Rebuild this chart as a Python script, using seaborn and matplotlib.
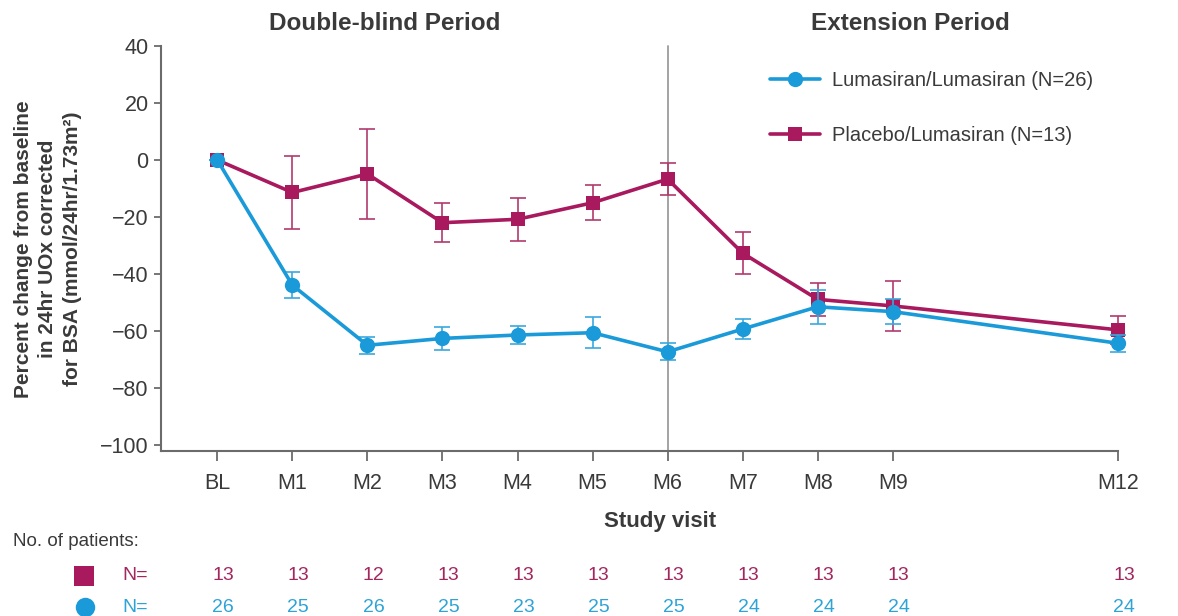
import numpy as np
import pandas as pd
import matplotlib
matplotlib.use("Agg")
import matplotlib.pyplot as plt
import matplotlib.transforms as mtransforms
from matplotlib.lines import Line2D
import seaborn as sns

# ---------------- data ----------------
visits = ["BL", "M1", "M2", "M3", "M4", "M5", "M6", "M7", "M8", "M9", "M12"]
visit_month = [0, 1, 2, 3, 4, 5, 6, 7, 8, 9, 12]

luma_label = "Lumasiran/Lumasiran (N=26)"
luma_mean = [0, -43.9, -65.0, -62.6, -61.4, -60.6, -67.3, -59.3, -51.5, -53.2, -64.3]
luma_se = [0, 4.6, 3.0, 4.0, 3.0, 5.4, 3.0, 3.5, 5.9, 4.5, 3.0]
luma_n = [26, 25, 26, 25, 23, 25, 25, 24, 24, 24, 24]

plac_label = "Placebo/Lumasiran (N=13)"
plac_mean = [0, -11.4, -4.9, -22.0, -20.8, -15.0, -6.7, -32.7, -48.9, -51.2, -59.6]
plac_se = [0, 12.8, 15.8, 6.8, 7.6, 6.1, 5.6, 7.3, 5.9, 8.8, 5.0]
plac_n = [13, 13, 12, 13, 13, 13, 13, 13, 13, 13, 13]

yticks = [-100, -80, -60, -40, -20, 0, 20, 40]

# ---------------- style ----------------
sns.set_theme(style="ticks")
plt.rcParams["font.family"] = ["Liberation Sans", "DejaVu Sans"]

BLUE = "#1A9AD8"
RED = "#A8195E"
BLUE_ERR = "#3AA8DD"
RED_ERR = "#B03A6E"
BLUE_TXT = "#2EA3D6"
RED_TXT = "#A3275F"
TXT = "#3a3a3a"
SPINE = "#6b6b6b"

W, H = 1178, 616
fig = plt.figure(figsize=(W / 100, H / 100), dpi=100)
ax = fig.add_axes([161 / W, 1 - 451 / H, (1118 - 161) / W, (451 - 46) / H])

df_luma = pd.DataFrame({"month": visit_month, "mean": luma_mean, "se": luma_se})
df_plac = pd.DataFrame({"month": visit_month, "mean": plac_mean, "se": plac_se})

# vertical divider at M6
ax.axvline(6, color="#9c9c9c", lw=1.3, zorder=1)

# placebo series
ax.errorbar(df_plac["month"], df_plac["mean"], yerr=df_plac["se"], fmt="none",
            ecolor=RED_ERR, elinewidth=1.2, capsize=6, capthick=1.2, zorder=2)
sns.lineplot(data=df_plac, x="month", y="mean", color=RED, marker="s",
             markersize=10, markeredgewidth=0, linewidth=2.6, label=plac_label,
             ax=ax, zorder=3)
# lumasiran series
ax.errorbar(df_luma["month"], df_luma["mean"], yerr=df_luma["se"], fmt="none",
            ecolor=BLUE_ERR, elinewidth=1.2, capsize=6, capthick=1.2, zorder=4)
sns.lineplot(data=df_luma, x="month", y="mean", color=BLUE, marker="o",
             markersize=11, markeredgewidth=0, linewidth=2.6, label=luma_label,
             ax=ax, zorder=5)

for ln in ax.lines:
    ln.set_clip_on(False)
for c in ax.collections:
    c.set_clip_on(False)

ax.set_xlim(-0.75, 12)
ax.set_ylim(-102.1, 40)
ax.set_xticks(visit_month)
ax.set_xticklabels(visits)
ax.set_yticks(yticks)
ax.set_yticklabels([f"\u2212{abs(v)}" if v < 0 else str(v) for v in yticks])
ax.tick_params(axis="both", labelsize=15.5, colors=SPINE, labelcolor=TXT, width=1.3)
ax.tick_params(axis="x", length=7, pad=9)
ax.tick_params(axis="y", length=5, pad=4)
for s in ["top", "right"]:
    ax.spines[s].set_visible(False)
for s in ["left", "bottom"]:
    ax.spines[s].set_color(SPINE)
    ax.spines[s].set_linewidth(1.5)

ax.set_xlabel("")
ax.set_ylabel("")

# y label (three lines)
fig.text(48 / W, 1 - 249 / H,
         "Percent change from baseline\nin 24hr UOx corrected\nfor BSA (mmol/24hr/1.73m\u00b2)",
         rotation=90, ha="center", va="center", fontsize=15, fontweight="bold",
         color=TXT, linespacing=1.35, multialignment="center")

# period headers
fig.text(385 / W, 1 - 23 / H, "Double-blind Period", ha="center", va="center",
         fontsize=17.5, fontweight="bold", color=TXT)
fig.text(910 / W, 1 - 23 / H, "Extension Period", ha="center", va="center",
         fontsize=17.5, fontweight="bold", color=TXT)

# x label
fig.text(660 / W, 1 - 521 / H, "Study visit", ha="center", va="center",
         fontsize=16, fontweight="bold", color=TXT)

# legend
h, l = ax.get_legend_handles_labels()
order = [l.index(luma_label), l.index(plac_label)]
leg = ax.legend([h[i] for i in order], [l[i] for i in order],
                loc="upper left", bbox_to_anchor=(770 / W, 1 - 71 / H),
                bbox_transform=fig.transFigure, frameon=False, fontsize=14.5,
                handlelength=2.5, handletextpad=0.6, labelspacing=1.8,
                borderpad=0, borderaxespad=0)
for t in leg.get_texts():
    t.set_color(TXT)

# number-at-risk table
fig.text(13 / W, 1 - 541 / H, "No. of patients:", ha="left", va="center",
         fontsize=13.5, color=TXT)
fig.add_artist(Line2D([84 / W], [1 - 576 / H], marker="s", markersize=14,
                      color=RED, markeredgewidth=0, transform=fig.transFigure))
fig.add_artist(Line2D([85 / W], [1 - 607 / H], marker="o", markersize=14,
                      color=BLUE, markeredgewidth=0, transform=fig.transFigure))
fig.text(122 / W, 1 - 576 / H, "N=", ha="left", va="center", fontsize=14, color=RED_TXT)
fig.text(122 / W, 1 - 607 / H, "N=", ha="left", va="center", fontsize=14, color=BLUE_TXT)

trans = mtransforms.blended_transform_factory(ax.transData, fig.transFigure)
trans = trans + mtransforms.ScaledTranslation(6 / 100, 0, fig.dpi_scale_trans)
for m, n in zip(visit_month, plac_n):
    ax.text(m, 1 - 576 / H, str(n), transform=trans, ha="center", va="center",
            fontsize=14, color=RED_TXT, clip_on=False)
for m, n in zip(visit_month, luma_n):
    ax.text(m, 1 - 607 / H, str(n), transform=trans, ha="center", va="center",
            fontsize=14, color=BLUE_TXT, clip_on=False)

fig.savefig("out.png", dpi=100, facecolor="white")
